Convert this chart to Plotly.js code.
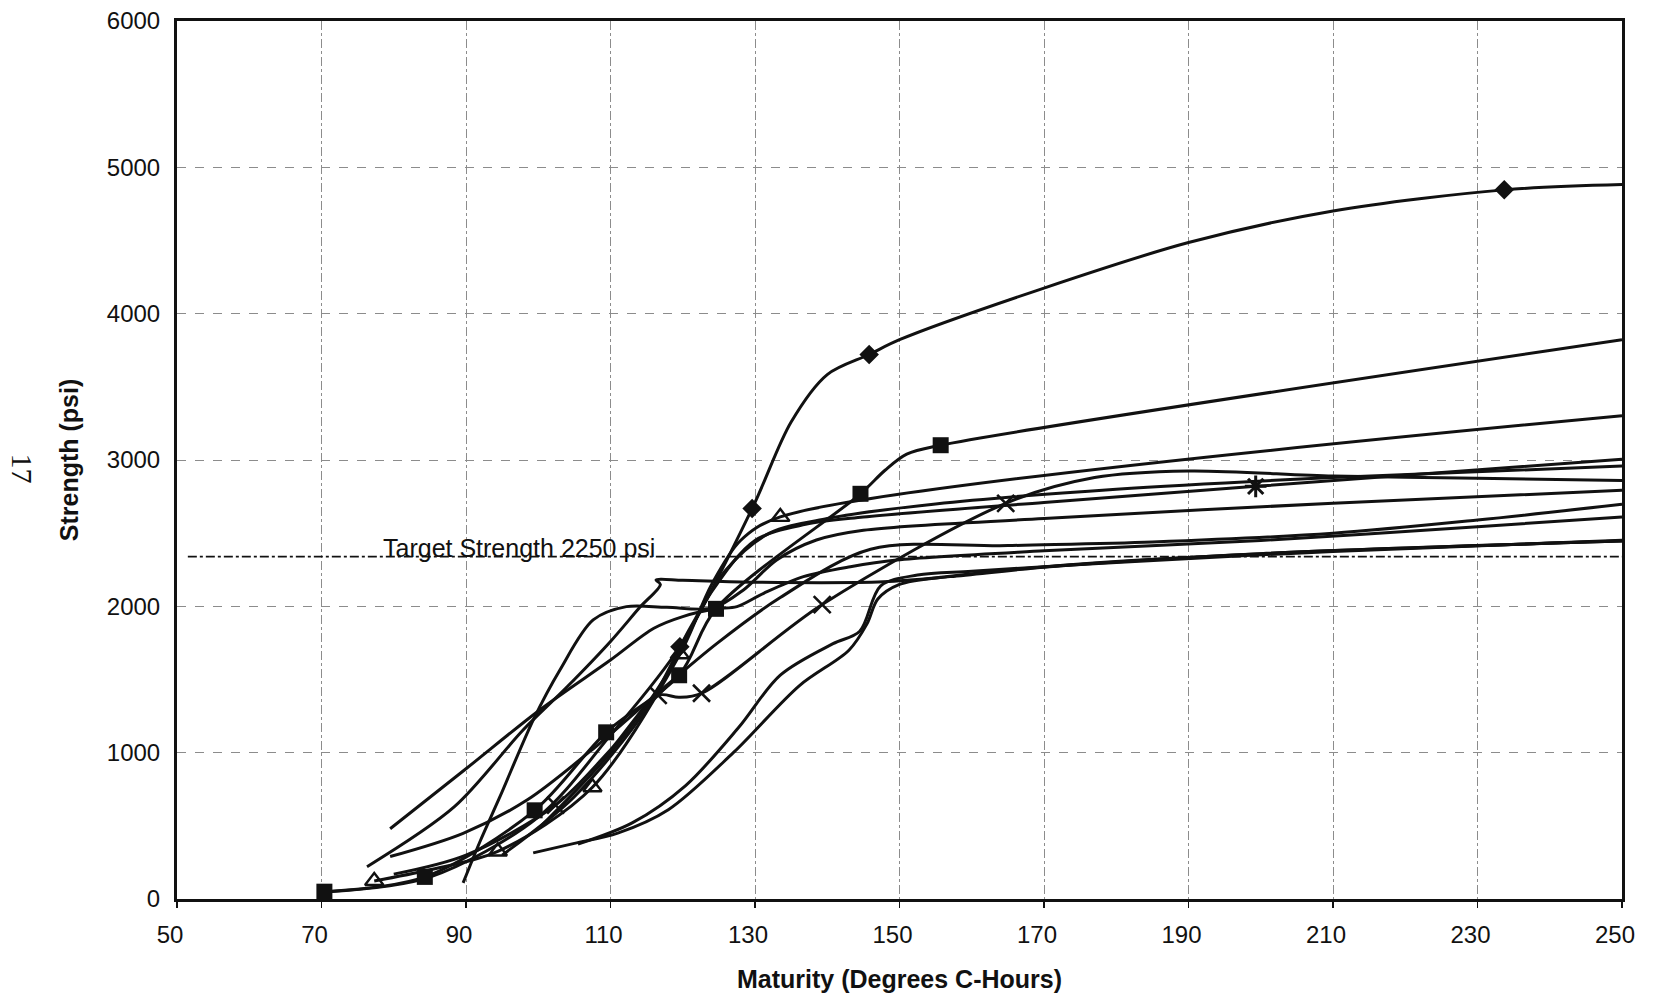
<!DOCTYPE html>
<html>
<head>
<meta charset="utf-8">
<script src="https://cdn.plot.ly/plotly-3.0.1.min.js"></script>
<style>html,body{margin:0;padding:0;background:#fff;}#chart{width:1654px;height:1004px;}</style>
</head>
<body>
<div id="chart"></div>
<script>
// ---- Data (Maturity in degrees C-hours, Strength in psi) ----
// Curves with markers
const diamondX = [71, 85, 100, 110, 119.6, 129.6, 135, 140, 145.8, 150, 170, 190, 210, 233.7, 250];
const diamondY = [50, 150, 560, 1120, 1724, 2668, 3260, 3584, 3721, 3822, 4175, 4486, 4702, 4846, 4882];
const diamondMarkX = [119.6, 129.6, 145.8, 233.7];
const diamondMarkY = [1724, 2668, 3721, 4846];

const squareX = [70.4, 84.3, 99.5, 109.4, 119.5, 124.6, 144.6, 148, 151, 155.7, 250];
const squareY = [50, 151, 606, 1139, 1529, 1983, 2769, 2930, 3040, 3101, 3822];
const squareMarkX = [70.4, 84.3, 99.5, 109.4, 119.5, 124.6, 144.6, 155.7];
const squareMarkY = [50, 151, 606, 1139, 1529, 1983, 2769, 3101];

const triangleX = [77.3, 85, 94.4, 107.5, 119.6, 124, 128, 133.5, 250];
const triangleY = [123, 200, 325, 764, 1673, 2150, 2450, 2611, 3303];
const triangleMarkX = [77.3, 94.4, 107.5, 119.6, 133.5];
const triangleMarkY = [123, 325, 764, 1673, 2611];

const crossX = [80, 90, 102.4, 110, 116.6, 119.5, 122.6, 139.3, 164.7, 177, 190, 210, 230, 250];
const crossY = [170, 300, 642, 1020, 1392, 1378, 1406, 2012, 2704, 2880, 2925, 2890, 2875, 2860];
const crossMarkX = [102.4, 116.6, 122.6, 139.3, 164.7];
const crossMarkY = [642, 1392, 1406, 2012, 2704];

const starX = [100, 110, 118, 124, 130, 137, 145, 170, 199.3, 250];
const starY = [480, 1000, 1550, 2100, 2450, 2560, 2610, 2710, 2820, 3005];
const starMarkX = [199.3];
const starMarkY = [2820];

// Curves without markers
const curveAX = [79.5, 90, 100.2, 110, 116, 120, 124.6, 127.5, 131.2, 136.7, 143.2, 149.6, 170, 200, 230, 250];
const curveAY = [480, 890, 1292, 1633, 1850, 1930, 1983, 1998, 2089, 2203, 2271, 2317, 2380, 2450, 2544, 2610];

const curveHX = [89.6, 92, 94.7, 99.3, 103, 107.6, 112.2, 117.8, 124.2, 128.4, 133, 138.5, 145, 170, 210, 250];
const curveHY = [110, 400, 699, 1223, 1565, 1907, 1998, 1993, 1989, 2112, 2317, 2453, 2520, 2600, 2705, 2793];

const curveBX = [76.3, 88.4, 97.9, 104, 110, 114, 116.9, 116.3, 120, 130, 147.8, 157, 170.8, 200, 250];
const curveBY = [221, 631, 1155, 1450, 1760, 1990, 2150, 2180, 2178, 2165, 2168, 2203, 2271, 2360, 2446];

const curveCX = [79.5, 89.6, 98.5, 107.2, 116, 124.7, 133.5, 146, 165, 185, 210, 230, 250];
const curveCY = [290, 449, 678, 1010, 1385, 1745, 2060, 2390, 2415, 2440, 2500, 2590, 2697];

const curveE1X = [99.3, 105, 111, 118, 127, 136.2, 143, 145.5, 147, 150, 157, 175, 200, 250];
const curveE1Y = [315, 380, 450, 610, 1000, 1460, 1700, 1880, 2050, 2150, 2205, 2290, 2360, 2446];

const curveE2X = [105.5, 113, 120.4, 127.7, 133.5, 140.8, 144.5, 147.4, 152.5, 160, 180, 210, 250];
const curveE2Y = [375, 520, 775, 1170, 1530, 1745, 1830, 2140, 2214, 2240, 2300, 2375, 2452];

const curveQX = [95, 105, 115, 121, 126, 132, 140, 155, 180, 210, 250];
const curveQY = [300, 700, 1300, 1850, 2250, 2500, 2600, 2700, 2800, 2880, 2959];

// Target strength reference line
const targetX = [51.5, 250];
const targetY = [2340, 2340];
const targetLabel = 'Target Strength 2250 psi';

const xTickVals = [50, 70, 90, 110, 130, 150, 170, 190, 210, 230, 250];
const yTickVals = [0, 1000, 2000, 3000, 4000, 5000, 6000];

// ---- Build traces ----
const INK = '#111111';
const curves = [
  [diamondX, diamondY], [squareX, squareY], [triangleX, triangleY], [crossX, crossY],
  [starX, starY], [curveAX, curveAY], [curveHX, curveHY], [curveBX, curveBY],
  [curveCX, curveCY], [curveE1X, curveE1Y], [curveE2X, curveE2Y], [curveQX, curveQY]
];
const traces = curves.map(c => ({
  x: c[0], y: c[1], type: 'scatter', mode: 'lines',
  line: {color: INK, width: 3, shape: 'spline', smoothing: 0.9},
  hoverinfo: 'skip', showlegend: false
}));

traces.push({x: targetX, y: targetY, type: 'scatter', mode: 'lines',
  line: {color: INK, width: 1.8, dash: 'dashdot'}, showlegend: false, hoverinfo: 'skip'});

const marks = [
  [diamondMarkX, diamondMarkY, {symbol: 'diamond', size: 15, color: INK}],
  [squareMarkX, squareMarkY, {symbol: 'square', size: 16, color: INK}],
  [triangleMarkX, triangleMarkY, {symbol: 'triangle-up-open', size: 16, color: INK, line: {color: INK, width: 2.4}}],
  [crossMarkX, crossMarkY, {symbol: 'x-thin-open', size: 17, color: INK, line: {color: INK, width: 2.6}}],
  [starMarkX, starMarkY, {symbol: 'asterisk-open', size: 18, color: INK, line: {color: INK, width: 3}}]
];
marks.forEach(m => traces.push({x: m[0], y: m[1], type: 'scatter', mode: 'markers',
  marker: m[2], showlegend: false, hoverinfo: 'skip', cliponaxis: false}));

const FONT = 'Liberation Sans, Arial, sans-serif';
const layout = {
  width: 1654, height: 1004,
  margin: {l: 177, r: 32, t: 21, b: 105},
  paper_bgcolor: '#ffffff', plot_bgcolor: '#ffffff',
  font: {family: FONT, color: INK},
  showlegend: false,
  xaxis: {
    range: [50, 250], tickvals: xTickVals, ticktext: xTickVals.map(String),
    showgrid: true, gridcolor: '#8c8c8c', gridwidth: 1, griddash: 'dashdot',
    showline: true, linecolor: INK, linewidth: 3, mirror: true,
    ticks: 'outside', ticklen: 6, tickwidth: 1.2, tickcolor: INK,
    ticklabelstandoff: 6, ticklabelshift: -7, zeroline: false,
    tickfont: {size: 24, family: FONT, color: INK},
    title: {text: 'Maturity (Degrees C-Hours)', standoff: 24,
            font: {size: 25, family: FONT, color: INK, weight: 'bold'}},
    automargin: false
  },
  yaxis: {
    range: [0, 6000], tickvals: yTickVals, ticktext: yTickVals.map(String),
    showgrid: true, gridcolor: '#8c8c8c', gridwidth: 1, griddash: 'dash',
    showline: true, linecolor: INK, linewidth: 3, mirror: true,
    ticks: '', ticklabelstandoff: 9, zeroline: false,
    tickfont: {size: 24, family: FONT, color: INK},
    title: {text: 'Strength (psi)', standoff: 22,
            font: {size: 25, family: FONT, color: INK, weight: 'bold'}},
    automargin: false
  },
  annotations: [
    {x: 97.4, y: targetY[0], xref: 'x', yref: 'y', text: targetLabel, showarrow: false,
     xanchor: 'center', yanchor: 'bottom', yshift: -7,
     font: {size: 25, family: FONT, color: INK}},
    {x: -0.107, y: 0.49, xref: 'paper', yref: 'paper', text: '17', showarrow: false,
     xanchor: 'center', yanchor: 'middle',
     textangle: 90, font: {size: 30, family: 'Liberation Serif, Times New Roman, serif', color: INK}}
  ]
};

Plotly.newPlot('chart', traces, layout, {staticPlot: true, displayModeBar: false});
</script>
</body>
</html>
